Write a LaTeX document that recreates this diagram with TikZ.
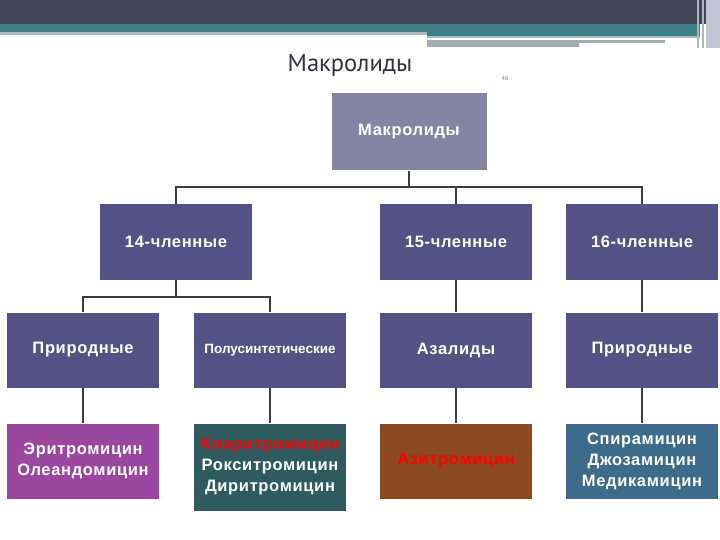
\documentclass[tikz,border=0pt]{standalone}
\usepackage{fontspec}
\setmainfont{Liberation Sans}
\newfontfamily\titlefont{PT Sans}
\definecolor{bandDark}{RGB}{65,69,86}
\definecolor{bandTeal}{RGB}{63,128,136}
\definecolor{bandLight}{RGB}{169,185,191}
\definecolor{bandGrey}{RGB}{158,174,178}
\definecolor{edgeGrey}{RGB}{196,196,210}
\definecolor{titleInk}{RGB}{45,50,62}
\definecolor{boxBlue}{RGB}{82,82,132}
\definecolor{rootGrey}{RGB}{133,133,163}
\definecolor{drugPurple}{RGB}{155,71,159}
\definecolor{drugTeal}{RGB}{47,91,94}
\definecolor{drugBrown}{RGB}{138,74,30}
\definecolor{drugSteel}{RGB}{63,107,139}
\definecolor{lineGrey}{RGB}{59,59,69}

\begin{document}
\begin{tikzpicture}[
    x=1pt, y=-1pt,
    box/.style={rectangle, minimum width=152pt, minimum height=75pt, inner sep=0pt, align=center, fill=boxBlue, text=white, font=\fontsize{16.5}{21}\selectfont\bfseries\addfontfeatures{LetterSpace=4}},
    conn/.style={draw=lineGrey, line width=2pt}
]
\useasboundingbox (0,0) rectangle (720,540);

% Header bands
\fill[bandDark] (0,0) rectangle (706,24);
\fill[bandTeal] (0,24) rectangle (700,33);
\fill[bandLight] (0,32) rectangle (427,35);
\fill[bandTeal] (427,32) rectangle (700,36);
\fill[bandLight] (427,36) rectangle (700,38);
\fill[white] (427,38) rectangle (665,40);
\fill[bandGrey] (427,40) rectangle (665,43);
\fill[bandGrey] (427,43) rectangle (579,47);
\fill[edgeGrey] (706,0) rectangle (720,48);
\fill[bandLight] (697,0) rectangle (699,48);
\fill[bandLight] (702,0) rectangle (704,48);

% Title and slide number
\node (title) at (350,65) [text=titleInk] {\titlefont\fontsize{24.5}{28}\selectfont Макролиды};
\node (num) at (505,78) [text=gray, font=\fontsize{6}{7}\selectfont] {46};

% Row 1: root
\node (root) at (409,132) [box, fill=rootGrey, minimum width=155pt, minimum height=77pt] {Макролиды};

% Row 2: ring size
\node (m14) at (176,242) [box] {14-членные};
\node (m15) at (456,242) [box] {15-членные};
\node (m16) at (642,242) [box] {16-членные};

% Row 3: subgroups
\node (nat14) at (83,350) [box] {Природные};
\node (semi14) at (270,350) [box, font=\fontsize{13.5}{16}\selectfont\bfseries] {Полусинтетические};
\node (azal) at (456,350) [box] {Азалиды};
\node (nat16) at (642,350) [box] {Природные};

% Row 4: drugs
\node (ery) at (83,461) [box, fill=drugPurple] {Эритромицин\\Олеандомицин};
\node (clar) at (270,467) [box, fill=drugTeal, minimum height=87pt] {\textcolor{red}{Кларитромицин}\\Рокситромицин\\Диритромицин};
\node (azi) at (456,461) [box, fill=drugBrown] {\textcolor{red}{Азитромицин}};
\node (spir) at (642,461) [box, fill=drugSteel] {Спирамицин\\Джозамицин\\Медикамицин};

% Branch points
\coordinate (bus1) at (409,187);
\coordinate (bus2) at (176,297);

% Connectors
\draw[conn] (root.south) -- (bus1) -| (m14.north);
\draw[conn] (bus1) -| (m15.north);
\draw[conn] (bus1) -| (m16.north);
\draw[conn] (m14.south) -- (bus2) -| (nat14.north);
\draw[conn] (bus2) -| (semi14.north);
\draw[conn] (m15) -- (azal);
\draw[conn] (m16) -- (nat16);
\draw[conn] (nat14) -- (ery);
\draw[conn] (semi14) -- (clar);
\draw[conn] (azal) -- (azi);
\draw[conn] (nat16) -- (spir);

\end{tikzpicture}
\end{document}
